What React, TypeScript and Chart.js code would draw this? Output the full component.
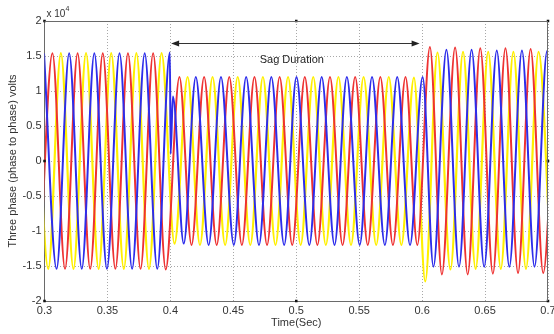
import React, { useEffect, useRef } from "react";
import { Chart, registerables } from "chart.js";

Chart.register(...registerables);

// Extrema (peaks / troughs) of each phase (time in s, volts)
const blueT = [0.2996, 0.3096, 0.3196, 0.3296, 0.3396, 0.3496, 0.3596, 0.3696, 0.3796, 0.3896, 0.3996,
  0.4002, 0.4020,
  0.4106, 0.4202, 0.4304, 0.4402, 0.4504, 0.4602, 0.4704, 0.4802, 0.4904, 0.5002, 0.5104, 0.5202, 0.5304, 0.5402, 0.5504, 0.5602, 0.5704, 0.5802, 0.5904, 0.6004,
  0.6090, 0.6193, 0.6293, 0.6393, 0.6493, 0.6593, 0.6693, 0.6793, 0.6893, 0.6993, 0.7093];
const blueV = [15400, -15400, 15400, -15400, 15400, -15400, 15400, -15400, 15400, -15400, 15500,
  1000, 9200,
  -11800, 12000, -12000, 12000, -12000, 12000, -12000, 12000, -12000, 12000, -12000, 12000, -12000, 12000, -12000, 12000, -12000, 12000, -12000, 12000,
  -15100, 15900, -15100, 15900, -15100, 15800, -15100, 15800, -15100, 15700, -15100];

const redT = [0.2963, 0.3063, 0.3163, 0.3263, 0.3363, 0.3463, 0.3563, 0.3663, 0.3763, 0.3863, 0.3963,
  0.4072, 0.4168, 0.4268, 0.4368, 0.4468, 0.4568, 0.4668, 0.4768, 0.4868, 0.4968, 0.5068, 0.5168, 0.5268, 0.5368, 0.5468, 0.5568, 0.5668, 0.5768, 0.5868, 0.5962,
  0.6062, 0.6157, 0.6262, 0.6362, 0.6462, 0.6562, 0.6662, 0.6762, 0.6862, 0.6962, 0.7062];
const redV = [-15400, 15400, -15400, 15400, -15400, 15400, -15400, 15400, -15400, 15400, -15500,
  12000, -12000, 12000, -12000, 12000, -12000, 12000, -12000, 12000, -12000, 12000, -12000, 12000, -12000, 12000, -12000, 12000, -12000, 12000, -12000,
  16300, -16200, 16200, -16200, 16100, -16100, 16100, -16000, 16000, -16000, 16000];

const yellowT = [0.2930, 0.3030, 0.3130, 0.3230, 0.3330, 0.3430, 0.3530, 0.3630, 0.3730, 0.3830, 0.3930,
  0.4033, 0.4137, 0.4235, 0.4335, 0.4435, 0.4535, 0.4635, 0.4735, 0.4835, 0.4935, 0.5035, 0.5135, 0.5235, 0.5335, 0.5435, 0.5535, 0.5635, 0.5735, 0.5835, 0.5935,
  0.6025, 0.6122, 0.6225, 0.6325, 0.6425, 0.6525, 0.6625, 0.6725, 0.6825, 0.6925, 0.7025];
const yellowV = [15400, -15400, 15400, -15400, 15400, -15400, 15400, -15400, 15400, -15400, 15400,
  -11800, 12000, -12000, 12000, -12000, 12000, -12000, 12000, -12000, 12000, -12000, 12000, -12000, 12000, -12000, 12000, -12000, 12000, -12000, 11900,
  -17200, 15500, -15500, 15600, -15400, 15600, -15400, 15600, -15400, 15600, -15400];

// Axis ticks
const xTicks = [0.3, 0.35, 0.4, 0.45, 0.5, 0.55, 0.6, 0.65, 0.7];
const xTickLabels = ["0.3", "0.35", "0.4", "0.45", "0.5", "0.55", "0.6", "0.65", "0.7"];
const yTicks = [-20000, -15000, -10000, -5000, 0, 5000, 10000, 15000, 20000];
const yTickLabels = ["-2", "-1.5", "-1", "-0.5", "0", "0.5", "1", "1.5", "2"];

// Selection handles on the axes box
const handleX = [0.3, 0.5, 0.7, 0.7, 0.7, 0.5, 0.3, 0.3];
const handleY = [20000, 20000, 20000, 0, -20000, -20000, -20000, 0];

// Sag annotation (data units)
const sagStart = 0.4006;
const sagEnd = 0.598;
const sagArrowLevel = 16900;
const sagLabelX = 0.4965;
const sagLabelY = 14400;
const sagLabel = "Sag Duration";

const FONT = "'Liberation Sans', Arial, sans-serif";

const overlayPlugin = {
  id: "overlay",
  afterDatasetsDraw(chart: any) {
    const { ctx, chartArea: a, scales } = chart;
    const x = scales.x;
    const y = scales.y;
    ctx.save();
    // top & right frame
    ctx.strokeStyle = "#6a6a6a";
    ctx.lineWidth = 1;
    ctx.beginPath();
    ctx.moveTo(a.left, Math.round(a.top) + 0.5);
    ctx.lineTo(a.right, Math.round(a.top) + 0.5);
    ctx.moveTo(Math.round(a.right) - 0.5, a.top);
    ctx.lineTo(Math.round(a.right) - 0.5, a.bottom);
    ctx.stroke();

    // sag duration arrow
    const x1 = x.getPixelForValue(sagStart);
    const x2 = x.getPixelForValue(sagEnd);
    const yy = Math.round(y.getPixelForValue(sagArrowLevel)) + 0.5;
    ctx.strokeStyle = "#333";
    ctx.fillStyle = "#222";
    ctx.beginPath();
    ctx.moveTo(x1 + 5, yy);
    ctx.lineTo(x2 - 5, yy);
    ctx.stroke();
    ctx.beginPath();
    ctx.moveTo(x1, yy);
    ctx.lineTo(x1 + 8, yy - 3);
    ctx.lineTo(x1 + 8, yy + 3);
    ctx.closePath();
    ctx.fill();
    ctx.beginPath();
    ctx.moveTo(x2, yy);
    ctx.lineTo(x2 - 8, yy - 3);
    ctx.lineTo(x2 - 8, yy + 3);
    ctx.closePath();
    ctx.fill();

    ctx.font = `11px ${FONT}`;
    ctx.fillStyle = "#222";
    ctx.textAlign = "center";
    ctx.textBaseline = "middle";
    ctx.fillText(sagLabel, x.getPixelForValue(sagLabelX), y.getPixelForValue(sagLabelY));

    // exponent label
    ctx.textAlign = "left";
    ctx.fillStyle = "#333";
    ctx.font = `10px ${FONT}`;
    ctx.fillText("x 10", a.left + 2, 14);
    ctx.font = `7px ${FONT}`;
    ctx.fillText("4", a.left + 21, 9);
    ctx.restore();
  },
};

function pts(t: number[], v: number[]) {
  return t.map((tt, i) => ({ x: tt, y: v[i] }));
}

export default function App() {
  const ref = useRef<HTMLCanvasElement | null>(null);
  useEffect(() => {
    if (!ref.current) return;
    const lineBase = {
      pointRadius: 0,
      fill: false,
      cubicInterpolationMode: "monotone" as const,
    };
    const chart = new Chart(ref.current, {
      type: "line",
      data: {
        datasets: [
          {
            data: handleX.map((hx, i) => ({ x: hx, y: handleY[i] })),
            showLine: false,
            pointStyle: "rect",
            pointRadius: 1.8,
            pointBackgroundColor: "#111",
            pointBorderWidth: 0,
            clip: false,
          } as any,
          { ...lineBase, data: pts(blueT, blueV), borderColor: "rgb(45,45,235)", borderWidth: 2 },
          { ...lineBase, data: pts(redT, redV), borderColor: "rgb(238,50,50)", borderWidth: 2 },
          { ...lineBase, data: pts(yellowT, yellowV), borderColor: "rgb(255,240,0)", borderWidth: 2.2 },
        ],
      },
      options: {
        animation: false,
        responsive: false,
        devicePixelRatio: 1,
        events: [],
        layout: { padding: { top: 21, right: 6, left: 0, bottom: 0 } },
        plugins: { legend: { display: false }, tooltip: { enabled: false } },
        scales: {
          x: {
            type: "linear",
            min: 0.3,
            max: 0.7,
            afterBuildTicks: (s: any) => {
              s.ticks = xTicks.map((v) => ({ value: v }));
            },
            afterFit: (s: any) => {
              s.height = 33;
              s.paddingLeft = 0;
              s.paddingRight = 0;
            },
            ticks: {
              autoSkip: false,
              maxRotation: 0,
              padding: 3,
              color: "#333",
              font: { family: FONT, size: 11 },
              callback: (v: any) => xTickLabels[xTicks.indexOf(Number(v))] ?? "",
            },
            grid: { color: "#a8a8a8", drawTicks: false, lineWidth: 1 },
            border: { display: true, color: "#6a6a6a", dash: [1, 2] },
            title: {
              display: true,
              text: "Time(Sec)",
              color: "#333",
              font: { family: FONT, size: 11 },
              padding: { top: 0, bottom: 4 },
            },
          },
          y: {
            type: "linear",
            min: -20000,
            max: 20000,
            afterBuildTicks: (s: any) => {
              s.ticks = yTicks.map((v) => ({ value: v }));
            },
            afterFit: (s: any) => {
              s.width = 44.5;
              s.paddingTop = 0;
              s.paddingBottom = 0;
            },
            ticks: {
              autoSkip: false,
              padding: 3,
              color: "#333",
              font: { family: FONT, size: 11 },
              callback: (v: any) => yTickLabels[yTicks.indexOf(Number(v))] ?? "",
            },
            grid: { color: "#a8a8a8", drawTicks: false, lineWidth: 1 },
            border: { display: true, color: "#6a6a6a", dash: [1, 2] },
            title: {
              display: true,
              text: "Three phase (phase to phase) volts",
              color: "#333",
              font: { family: FONT, size: 11 },
              padding: { top: 6, bottom: 0 },
            },
          },
        },
      },
      plugins: [overlayPlugin],
    });
    return () => chart.destroy();
  }, []);

  return (
    <div style={{ position: "fixed", left: 0, top: 0, width: 554, height: 334, background: "#fff" }}>
      <canvas ref={ref} width={554} height={334} style={{ display: "block", width: 554, height: 334 }} />
    </div>
  );
}
